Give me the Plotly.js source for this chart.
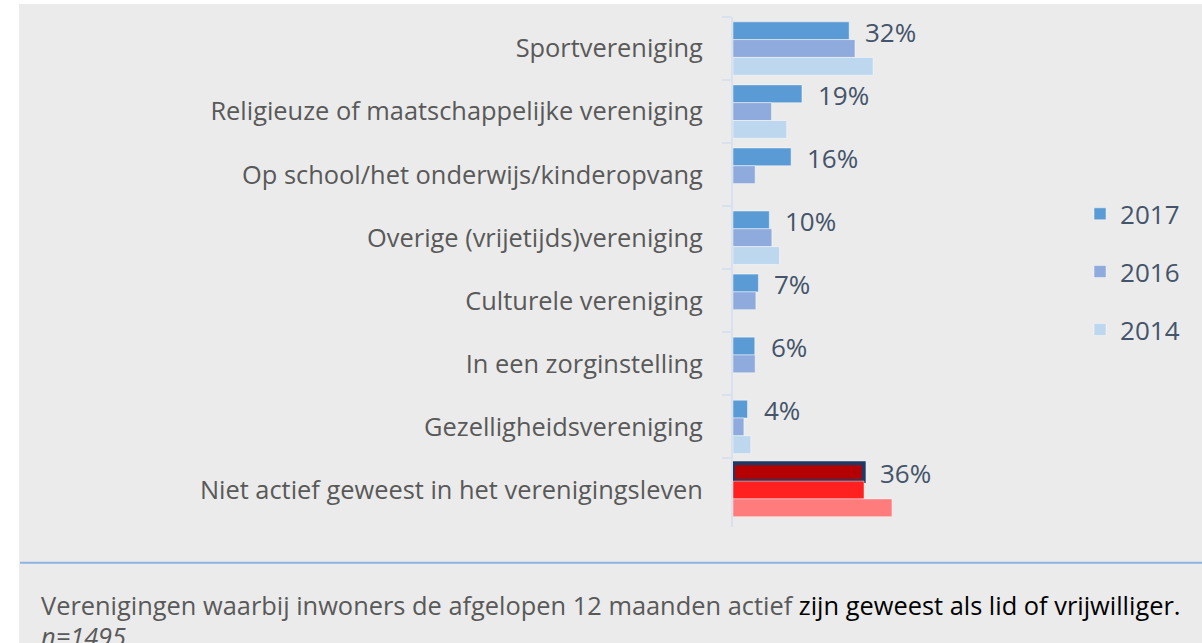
<!DOCTYPE html>
<html>
<head>
<meta charset="utf-8">
<script src="https://cdn.plot.ly/plotly-3.0.1.min.js"></script>
<style>
html,body{margin:0;padding:0;background:#ffffff;overflow:hidden;width:1202px;height:643px;}
#chart{position:absolute;left:19px;top:4px;width:1183px;height:660px;}
</style>
</head>
<body>
<div id="chart"></div>
<script>
const categories = [
  "Sportvereniging",
  "Religieuze of maatschappelijke vereniging",
  "Op school/het onderwijs/kinderopvang",
  "Overige (vrijetijds)vereniging",
  "Culturele vereniging",
  "In een zorginstelling",
  "Gezelligheidsvereniging",
  "Niet actief geweest in het verenigingsleven"
];
const years = ["2017", "2016", "2014"];
const values2017 = [32, 19, 16, 10, 7, 6, 4, 36];
const values2016 = [33.6, 10.6, 6.1, 10.7, 6.3, 6.1, 3.0, 36.1];
const values2014 = [38.6, 14.8, null, 12.8, null, null, 4.9, 43.8];
const labels2017 = ["32%", "19%", "16%", "10%", "7%", "6%", "4%", "36%"];
const footnote1 = "Verenigingen waarbij inwoners de afgelopen 12 maanden actief";
const footnote2 = "zijn geweest als lid of vrijwilliger.";
const footnote3 = "n=1495";

const FONT = "Open Sans, Noto Sans, sans-serif";
const FS = 25.4;
const FS2 = 26;
const last = categories.length - 1;

const c2017 = categories.map((c, i) => i === last ? "#b40000" : "#5b9bd5");
const c2016 = categories.map((c, i) => i === last ? "#ff2020" : "#8faadc");
const c2014 = categories.map((c, i) => i === last ? "#ff7c7c" : "#bdd7ee");
const l2017c = categories.map((c, i) => i === last ? "#1f3864" : "rgba(255,255,255,0.45)");
const l2017w = categories.map((c, i) => i === last ? 4 : 1);

const traces = [
  {type: "bar", orientation: "h", name: years[0], y: categories, x: values2017,
   marker: {color: c2017, line: {color: l2017c, width: l2017w}}, legendgroup: "a", hoverinfo: "none"},
  {type: "bar", orientation: "h", name: years[1], y: categories, x: values2016,
   marker: {color: c2016, line: {color: "rgba(255,255,255,0.45)", width: 1}}, legendgroup: "b", hoverinfo: "none"},
  {type: "bar", orientation: "h", name: years[2], y: categories, x: values2014,
   marker: {color: c2014, line: {color: "rgba(255,255,255,0.45)", width: 1}}, legendgroup: "c", hoverinfo: "none"}
];

const annotations = categories.map((c, i) => ({
  x: values2017[i], y: c, xref: "x", yref: "y",
  text: labels2017[i], showarrow: false, xanchor: "left", yanchor: "middle",
  xshift: 14, yshift: 17,
  font: {family: FONT, size: FS2, color: "#44546a"}
}));

annotations.push({
  xref: "paper", yref: "paper", x: -1.912, y: -0.116, xanchor: "left", yanchor: "top",
  showarrow: false, align: "left",
  text: footnote1 + ' <span style="color:#000000">' + footnote2 + '</span>',
  font: {family: FONT, size: FS, color: "#595959"}
});
annotations.push({
  xref: "paper", yref: "paper", x: -1.912, y: -0.176, xanchor: "left", yanchor: "top",
  showarrow: false, align: "left",
  text: "<i>" + footnote3 + "</i>",
  font: {family: FONT, size: FS, color: "#595959"}
});

const layout = {
  width: 1183, height: 660,
  paper_bgcolor: "#ebebeb", plot_bgcolor: "#ebebeb",
  margin: {l: 714, r: 106, t: 13, b: 137, pad: 0},
  barmode: "group", bargap: 0.153, bargroupgap: 0,
  font: {family: FONT, size: FS, color: "#595959"},
  xaxis: {range: [0, 100], visible: false, fixedrange: true},
  yaxis: {
    autorange: "reversed", type: "category",
    showline: true, linecolor: "#d9e1ee", linewidth: 2,
    ticks: "outside", ticklen: 9, tickcolor: "#d9e1ee", tickwidth: 2,
    tickson: "boundaries", ticklabelstandoff: 23,
    showgrid: false, zeroline: false,
    tickfont: {family: FONT, size: FS, color: "#595959"}
  },
  showlegend: true,
  legend: {
    x: 0.956, y: 0.66, xanchor: "left", yanchor: "top",
    bgcolor: "rgba(0,0,0,0)", tracegroupgap: 21, traceorder: "grouped",
    font: {family: FONT, size: FS2, color: "#44546a"}
  },
  shapes: [{
    type: "line", xref: "paper", yref: "paper",
    x0: -1.964, x1: 1.3, y0: -0.07, y1: -0.07,
    line: {color: "#8db3e2", width: 2}
  }],
  annotations: annotations
};

Plotly.newPlot("chart", traces, layout, {displayModeBar: false, staticPlot: true});
</script>
</body>
</html>
